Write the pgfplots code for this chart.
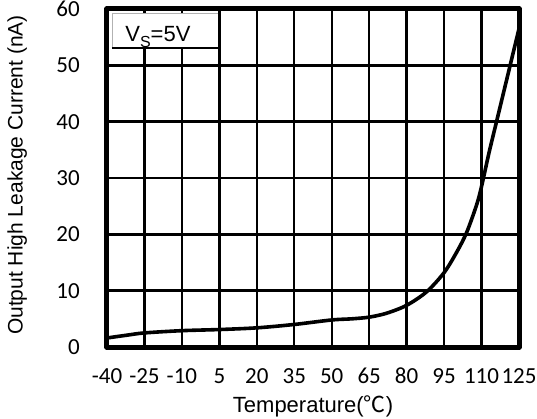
\documentclass[border=0pt]{standalone}
\usepackage{fontspec}
\setmainfont{Liberation Sans}
\newfontfamily\calibri{Carlito}
\newfontfamily\cjk{Noto Sans CJK SC}
\usepackage{pgfplots}
\pgfplotsset{compat=1.18}

\begin{document}
\begin{tikzpicture}
% fixed canvas: axis box sits at (0,0)-(412bp,338bp)
\path[use as bounding box] (-107bp,-72bp) rectangle (430bp,347bp);
\begin{axis}[
  scale only axis,
  width=412bp, height=338bp,
  xmin=-40, xmax=125, ymin=0, ymax=60,
  xtick={-40,-25,-10,5,20,35,50,65,80,95,110,125},
  xticklabels={-40,-25,-10,5,20,35,50,65,80,95,110,125},
  ytick={0,10,20,30,40,50,60},
  yticklabels={0,10,20,30,40,50,60},
  major tick length=0pt,
  grid=major,
  major grid style={black, line width=2.4bp},
  axis line style={black, line width=5bp, line join=round},
  xticklabel style={font=\calibri\fontsize{23bp}{27bp}\selectfont, anchor=base, inner sep=0pt, yshift=-36bp},
  yticklabel style={font=\calibri\fontsize{23bp}{27bp}\selectfont, anchor=east, inner sep=0pt, xshift=-27bp},
  xlabel={Temperature({\cjk ℃})},
  ylabel={Output High Leakage Current (nA)},
  xlabel style={font=\fontsize{22bp}{26bp}\selectfont, at={(axis description cs:0.5,0)}, anchor=base, inner sep=0pt, yshift=-65bp},
  ylabel style={font=\fontsize{21bp}{25bp}\selectfont, at={(axis description cs:-0.218,0.509)}, anchor=center, inner sep=0pt},
]
% condition box in the upper left corner
\fill[white] (axis cs:-38,53.1) rectangle (axis cs:5,59.3);
\draw[gray!60, line width=0.8bp] (axis cs:-38,53.1) -- (axis cs:-38,59.3) -- (axis cs:5,59.3);
\draw[black, line width=2.4bp] (axis cs:-38,53.1) -- (axis cs:5,53.1) -- (axis cs:5,60);
\node[anchor=base, inner sep=0pt, font=\fontsize{22bp}{26bp}\selectfont] at (axis cs:-19.6,54.2)
  {V\raisebox{-0.28em}{\fontsize{16bp}{16bp}\selectfont S}=5V};

% leakage current versus temperature
\addplot[black, line width=3.6bp, smooth, tension=0.5] coordinates {
  (-40,1.6) (-32,2.1) (-25,2.5) (-10,2.9) (5,3.1) (20,3.4) (35,4.0)
  (50,4.8) (58,5.0) (65,5.3) (72,6.0) (80,7.4) (88,9.8) (95,13.2)
  (100,16.8) (104,20.3) (108,25.2) (110,28.5) (113,34.5) (116,40)
  (119,45.5) (122,51) (125,56.5)
};
\end{axis}
\end{tikzpicture}
\end{document}
